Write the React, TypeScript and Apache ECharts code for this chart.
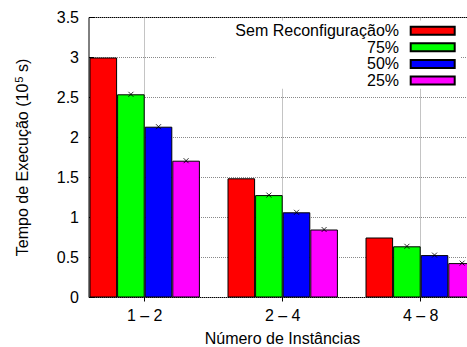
import { useEffect, useRef } from "react";
import * as echarts from "echarts";

// Instance ranges on the horizontal axis
const categories = ["1 – 2", "2 – 4", "4 – 8"];

// Execution time (10^5 s) per reconfiguration setting
const seriesNames = ["Sem Reconfiguração%", "75%", "50%", "25%"];
const semReconfiguracao = [3.0, 1.49, 0.75];
const reconf75 = [2.54, 1.28, 0.64];
const reconf50 = [2.135, 1.065, 0.53];
const reconf25 = [1.71, 0.85, 0.43];

const yMin = 0;
const yMax = 3.5;
const yStep = 0.5;

const FONT = "'Liberation Sans', Arial, Helvetica, sans-serif";
const COLORS = ["#ff0000", "#00ff00", "#0000ff", "#ff00ff"];

const BAR_W = 27.6;
const PLOT_TOP = 17.5;
const PLOT_H = 280;

export default function App() {
  const ref = useRef<HTMLDivElement>(null);

  useEffect(() => {
    if (!ref.current) return;
    const chart = echarts.init(ref.current, undefined, { renderer: "svg" });
    const values = [semReconfiguracao, reconf75, reconf50, reconf25];

    const bars = values.map((data, i) => ({
      type: "bar",
      name: seriesNames[i],
      xAxisIndex: 0,
      yAxisIndex: 0,
      data,
      barWidth: BAR_W,
      barGap: "0%",
      itemStyle: { color: COLORS[i], borderColor: "#000", borderWidth: 1 },
      z: 3,
    }));

    // small cross marks on top of the reconfigured bars
    const marks = values.slice(1).map((data, k) => {
      const i = k + 1;
      return {
        type: "scatter",
        name: "marca " + seriesNames[i],
        xAxisIndex: 0,
        yAxisIndex: 0,
        data,
        symbol: "path://M0 0L1 1M1 0L0 1",
        symbolSize: 5,
        symbolOffset: [(i - 1.5) * BAR_W, 0],
        itemStyle: { color: "transparent", borderColor: "#000", borderWidth: 1 },
        z: 5,
        silent: true,
      };
    });

    const yBase = { type: "value", min: yMin, max: yMax, interval: yStep };

    chart.setOption({
      animation: false,
      backgroundColor: "#fff",
      textStyle: { fontFamily: FONT },
      grid: [
        // bars: band of each category is five bar widths
        {
          left: 144.7 - 2.5 * BAR_W,
          width: 15 * BAR_W,
          top: PLOT_TOP,
          height: PLOT_H,
          outerBoundsMode: "none",
          containLabel: false,
        },
        // frame and value axis
        {
          left: 89,
          width: 387,
          top: PLOT_TOP,
          height: PLOT_H,
          show: true,
          borderColor: "#000",
          borderWidth: 1,
          backgroundColor: "transparent",
          outerBoundsMode: "none",
          containLabel: false,
        },
        // vertical grid lines through the category centres
        {
          left: 144.7,
          width: 10 * BAR_W,
          top: PLOT_TOP,
          height: PLOT_H,
          outerBoundsMode: "none",
          containLabel: false,
        },
      ],
      xAxis: [
        {
          type: "category",
          gridIndex: 0,
          data: categories,
          axisLine: { show: false },
          axisTick: { show: false },
          splitLine: { show: false },
          axisLabel: { margin: 10, fontSize: 16, color: "#000", fontFamily: FONT },
        },
        {
          type: "value",
          gridIndex: 1,
          min: 0,
          max: 1,
          axisLine: { show: false },
          axisTick: { show: false },
          axisLabel: { show: false },
          splitLine: { show: false },
          name: "Número de Instâncias",
          nameLocation: "middle",
          nameGap: 33,
          nameTextStyle: { fontSize: 16, color: "#000", fontFamily: FONT },
        },
        {
          type: "category",
          gridIndex: 2,
          data: categories,
          boundaryGap: false,
          position: "top",
          axisLine: { show: false },
          axisTick: { show: true, inside: true, length: 4, lineStyle: { color: "#000" } },
          axisLabel: { show: false },
          splitLine: { show: true, lineStyle: { color: "#888", type: "dotted", width: 1 } },
        },
      ],
      yAxis: [
        { ...yBase, gridIndex: 0, show: false },
        {
          ...yBase,
          gridIndex: 1,
          axisLine: { show: false },
          axisTick: { show: true, inside: true, length: 5, lineStyle: { color: "#000" } },
          axisLabel: { margin: 10, fontSize: 16, color: "#000", fontFamily: FONT },
          splitLine: { show: true, lineStyle: { color: "#888", type: "dotted", width: 1 } },
          name: "Tempo de Execução (10{sup|5} s)",
          nameLocation: "middle",
          nameGap: 57,
          nameTextStyle: {
            fontSize: 16,
            color: "#000",
            fontFamily: FONT,
            rich: {
              sup: { fontSize: 11, color: "#000", fontFamily: FONT, verticalAlign: "top", padding: [0, 0, 8, 1] },
            },
          },
        },
        { ...yBase, gridIndex: 2, show: false },
      ],
      legend: {
        data: seriesNames,
        orient: "vertical",
        align: "right",
        right: 6.3,
        top: 20.4,
        padding: [2, 5, 0, 20],
        itemGap: 0,
        itemWidth: 44,
        itemHeight: 8,
        icon: "rect",
        selectedMode: false,
        backgroundColor: "#fff",
        textStyle: {
          fontSize: 16,
          color: "#000",
          fontFamily: FONT,
          lineHeight: 16.6,
          padding: [0, 6.7, 0, 0],
        },
      },
      series: [...bars, ...marks],
    });

    return () => chart.dispose();
  }, []);

  return (
    <div
      ref={ref}
      style={{ position: "fixed", left: 0, top: 0, width: 467, height: 347, background: "#fff" }}
    />
  );
}
